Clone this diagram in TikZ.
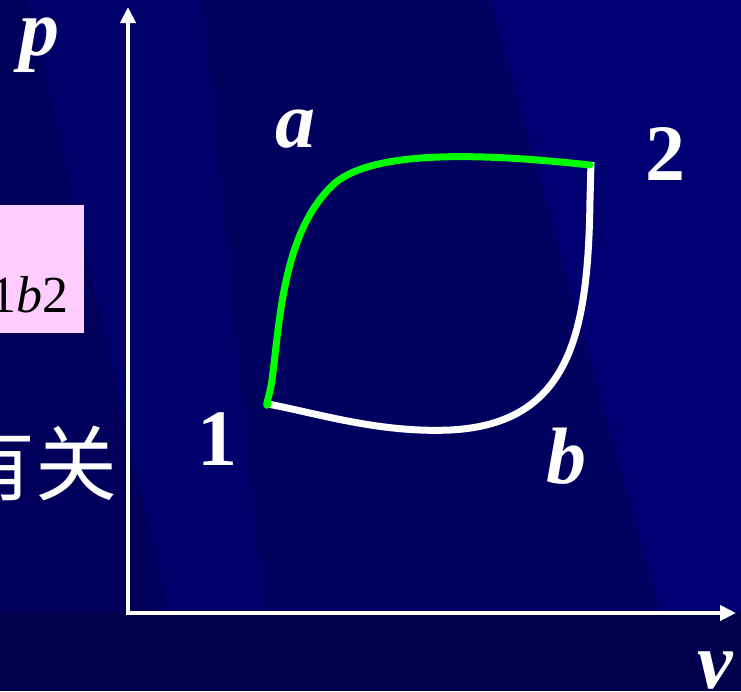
\documentclass[tikz,border=0pt]{standalone}
\usepackage{fontspec}
\setmainfont{Liberation Serif}
\newfontfamily\cjk{Noto Sans CJK SC}
\usetikzlibrary{arrows.meta}
\definecolor{bgbase}{HTML}{00006A}
\definecolor{bgdark}{HTML}{00005A}
\definecolor{bgmid}{HTML}{00005E}
\definecolor{bglight}{HTML}{000072}
\definecolor{bgbottom}{HTML}{00004C}
\definecolor{pinkbox}{HTML}{FFCCFF}
\definecolor{curvegreen}{HTML}{00FF00}
\tikzset{
  axis/.style={draw=white, line width=4.5pt, -{Triangle[length=16pt,width=15pt]}},
  lbl/.style={text=white, font=\fontsize{80}{80}\selectfont\bfseries\itshape, inner sep=0pt, anchor=base},
  numlbl/.style={text=white, font=\fontsize{80}{80}\selectfont\bfseries, inner sep=0pt, anchor=base},
  pathline/.style={line width=7pt, line cap=round, line join=round},
}
\begin{document}
\begin{tikzpicture}[x=1pt,y=-1pt]
\useasboundingbox (0,0) rectangle (741,691);
% background
\fill[bgbase] (0,0) rectangle (741,691);
\fill[bgdark] (0,0) -- (27,0) -- (168,612) -- (0,612) -- cycle;
\fill[bgmid] (203,0) -- (490,0) -- (660,612) -- (265,612) -- cycle;
\fill[bglight] (490,0) -- (741,0) -- (741,612) -- (660,612) -- cycle;
\fill[bgbottom] (0,612) rectangle (741,691);
% pink box
\node[fill=pinkbox, minimum width=84pt, minimum height=128pt, inner sep=0pt, anchor=north west] (box) at (0,205) {};
\node[inner sep=0pt, anchor=base east, font=\fontsize{52}{52}\selectfont] (boxtxt) at (69,312) {1\textit{b}2};
% chinese text
\node[text=white, inner sep=0pt, font=\cjk\fontsize{82}{82}\selectfont] (cn) at (36,463) {有关};
% axes
\coordinate (O) at (128,613);
\coordinate (ptop) at (128,7);
\coordinate (vend) at (736,613);
\draw[axis] (O) -- (ptop);
\draw[axis] ([xshift=-2.25pt]O) -- (vend);
% labels
\node[lbl] (p) at (39,55) {p};
\node[lbl] (v) at (715,688) {v};
\node[lbl] (a) at (295,147) {a};
\node[lbl] (b) at (566,483) {b};
\node[numlbl] (n1) at (217,465) {1};
\node[numlbl] (n2) at (665,180) {2};
% process curves
\coordinate (s1) at (268,404);
\coordinate (s2) at (590,165);
\coordinate (s2w) at (591,162);
\draw[pathline, white, line cap=butt] (s2w) -- (590,200)
  .. controls (588,330) and (572,424) .. (450,430)
  .. controls (380,433) and (320,414) .. (s1);
\draw[pathline, curvegreen] (s1) .. controls (264,410) and (270,395) .. (272,380)
  .. controls (280,320) and (283,230) .. (335,183)
  .. controls (375,150) and (480,153) .. (s2);
\end{tikzpicture}
\end{document}
